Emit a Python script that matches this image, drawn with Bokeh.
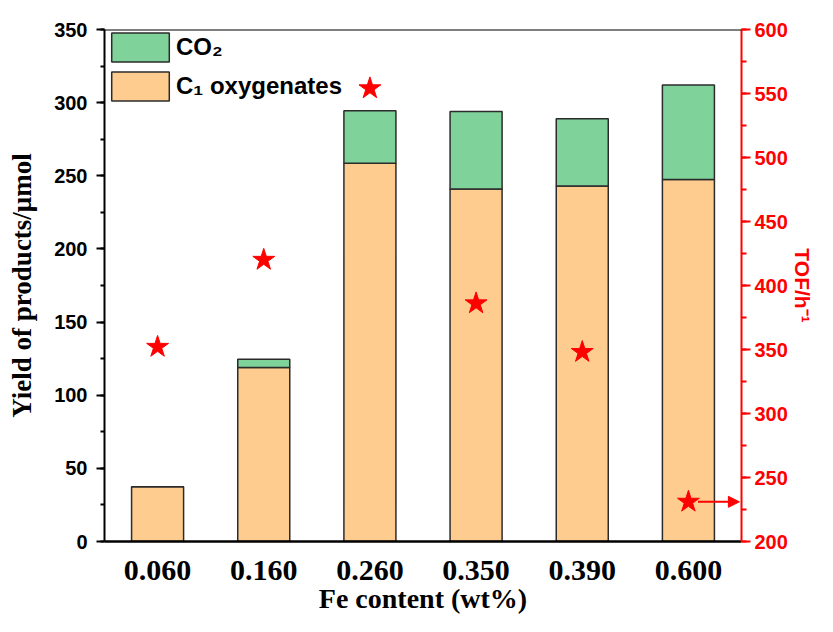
from bokeh.plotting import figure
from bokeh.models import (Range1d, LinearAxis, SingleIntervalTicker, Span,
                          Legend, LegendItem, Arrow, NormalHead, ColumnDataSource, FactorRange)
from bokeh.embed import file_html
from bokeh.resources import INLINE

# ---- data ----
fe_content = ["0.060", "0.160", "0.260", "0.350", "0.390", "0.600"]
c1_oxygenates = [37.5, 119, 258.5, 241, 243, 247.5]
co2 = [0, 5.5, 36, 53, 46, 64.5]
tof = [352, 420, 554, 386, 348, 231]
yield_limits = (0, 350)
tof_limits = (200, 600)

GREEN = "#7fd39a"
ORANGE = "#fecc8e"
RED = "#ff0000"
SANS = "Liberation Sans"
SERIF = "Liberation Serif"

src = ColumnDataSource(dict(fe=fe_content, c1=c1_oxygenates, co2=co2, tof=tof))

p = figure(width=817, height=616, x_range=FactorRange(*fe_content),
           y_range=Range1d(*yield_limits), output_backend="svg", toolbar_location=None,
           min_border_left=104, min_border_right=76, min_border_top=29, min_border_bottom=75)
p.extra_y_ranges = {"tof": Range1d(*tof_limits)}
p.xgrid.visible = False
p.ygrid.visible = False
p.outline_line_color = None

bars = p.vbar_stack(["c1", "co2"], x="fe", width=0.49, source=src,
                    fill_color=[ORANGE, GREEN], line_color="#2b2b2b", line_width=1.5)

p.scatter(x="fe", y="tof", source=src, marker="star", size=23,
          fill_color=RED, line_color=RED, y_range_name="tof")

n = len(fe_content)
p.add_layout(Arrow(end=NormalHead(size=11, fill_color=RED, line_color=RED),
                   x_start=n - 0.5 + 0.09, y_start=tof[-1], x_end=n - 0.02, y_end=tof[-1],
                   line_color=RED, line_width=2, y_range_name="tof"))

# top frame line
p.add_layout(Span(location=p.y_range.end, dimension="width", line_color="black", line_width=2))

# x axis
xa = p.xaxis[0]
xa.major_tick_line_color = None
xa.minor_tick_line_color = None
xa.major_tick_out = 0
xa.axis_line_width = 2.5
xa.axis_line_color = "black"
xa.major_label_text_font = SERIF
xa.major_label_text_font_style = "bold"
xa.major_label_text_font_size = "30px"
xa.major_label_text_color = "black"
xa.major_label_standoff = 19
xa.axis_label = "Fe content (wt%)"
xa.axis_label_text_font = SERIF
xa.axis_label_text_font_style = "bold"
xa.axis_label_text_font_size = "28px"
xa.axis_label_text_color = "black"
xa.axis_label_standoff = 0

# left axis
ya = p.yaxis[0]
ya.ticker = SingleIntervalTicker(interval=50, num_minor_ticks=2)
ya.axis_line_width = 2
ya.major_tick_line_width = 2
ya.minor_tick_line_width = 2
ya.major_tick_out = 8
ya.major_tick_in = 0
ya.minor_tick_out = 4
ya.minor_tick_in = 0
ya.major_label_text_font = SANS
ya.major_label_text_font_style = "bold"
ya.major_label_text_font_size = "20px"
ya.major_label_text_color = "black"
ya.major_label_standoff = 9
ya.axis_label = "Yield of products/μmol"
ya.axis_label_text_font = SERIF
ya.axis_label_text_font_style = "bold"
ya.axis_label_text_font_size = "27px"
ya.axis_label_text_color = "black"
ya.axis_label_standoff = 14

# right axis
ra = LinearAxis(y_range_name="tof", ticker=SingleIntervalTicker(interval=50, num_minor_ticks=2))
ra.axis_line_color = RED
ra.axis_line_width = 2
ra.major_tick_line_color = RED
ra.minor_tick_line_color = RED
ra.major_tick_line_width = 2
ra.minor_tick_line_width = 2
ra.major_tick_out = 9
ra.major_tick_in = 0
ra.minor_tick_out = 5
ra.minor_tick_in = 0
ra.major_label_text_font = SANS
ra.major_label_text_font_style = "bold"
ra.major_label_text_font_size = "20px"
ra.major_label_text_color = RED
ra.major_label_standoff = 4
ra.axis_label = "TOF/h⁻¹"
ra.axis_label_text_font = SANS
ra.axis_label_text_font_style = "bold"
ra.axis_label_text_font_size = "21px"
ra.axis_label_text_color = RED
ra.axis_label_standoff = 0
p.add_layout(ra, "right")

legend = Legend(items=[LegendItem(label="CO₂", renderers=[bars[1]]),
                       LegendItem(label="C₁ oxygenates", renderers=[bars[0]])],
                location="top_left", glyph_width=72, glyph_height=36, spacing=3,
                label_standoff=0, padding=0, margin=0,
                border_line_color=None, background_fill_alpha=0,
                label_text_font=SANS, label_text_font_style="bold",
                label_text_font_size="24px", label_text_color="black")
p.add_layout(legend)

open("out.html", "w").write(file_html(p, INLINE))
